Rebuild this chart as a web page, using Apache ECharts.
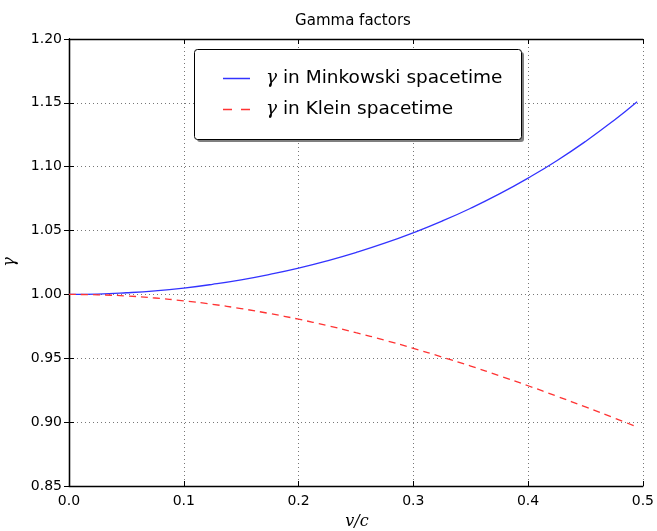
<!DOCTYPE html>
<html>
<head>
<meta charset="utf-8">
<script src="https://cdn.jsdelivr.net/npm/echarts@6/dist/echarts.min.js"></script>
<style>
  html, body { margin: 0; padding: 0; background: #fff; }
  #chart { width: 657px; height: 531px; }
</style>
</head>
<body>
<div id="chart"></div>
<script>
// v/c samples and the two gamma curves
var velocity = [0, 0.025, 0.05, 0.075, 0.1, 0.125, 0.15, 0.175, 0.2, 0.225, 0.25,
    0.275, 0.3, 0.325, 0.35, 0.375, 0.4, 0.425, 0.45, 0.475, 0.495];
var gammaMinkowski = [1.0000, 1.0003, 1.0013, 1.0028, 1.0050, 1.0079, 1.0114, 1.0157, 1.0206, 1.0263, 1.0328,
    1.0401, 1.0483, 1.0574, 1.0675, 1.0787, 1.0911, 1.1047, 1.1198, 1.1364, 1.1509];
var gammaKlein = [1.0000, 0.9997, 0.9988, 0.9972, 0.9950, 0.9923, 0.9889, 0.9850, 0.9806, 0.9756, 0.9701,
    0.9642, 0.9578, 0.9510, 0.9439, 0.9363, 0.9285, 0.9203, 0.9119, 0.9033, 0.8962];
var seriesNames = ['Minkowski', 'Klein'];

function pairs(xs, ys) {
    var out = [];
    for (var i = 0; i < xs.length; i++) {
        out.push([xs[i], ys[i]]);
    }
    return out;
}

var chart = echarts.init(document.getElementById('chart'));

var tickFont = {fontFamily: 'DejaVu Sans', fontSize: 14, color: '#000'};
var gammaRich = {
    g: {fontFamily: 'DejaVu Serif', fontStyle: 'italic', fontSize: 18.5, color: '#000'},
    t: {fontFamily: 'DejaVu Sans', fontSize: 18.5, color: '#000'}
};

var option = {
    animation: false,
    title: {
        text: 'Gamma factors',
        left: 348,
        top: 9,
        textAlign: 'center',
        textStyle: {fontFamily: 'DejaVu Sans', fontSize: 15, fontWeight: 'normal', color: '#000'}
    },
    graphic: [
        {
            type: 'rect',
            shape: {x: 197, y: 52, width: 327, height: 90, r: 3},
            style: {fill: 'rgba(0,0,0,0.5)'},
            z: 99
        },
        {
            type: 'rect',
            shape: {x: 194.5, y: 49.5, width: 327, height: 90, r: 3},
            style: {fill: '#fff', stroke: '#000', lineWidth: 1},
            z: 100
        },
        {
            type: 'text',
            x: 10, y: 262,
            rotation: Math.PI / 2,
            style: {text: 'γ', fontFamily: 'DejaVu Serif', fontStyle: 'italic', fontSize: 16, fill: '#000',
                align: 'center', verticalAlign: 'middle'}
        },
        {
            type: 'text',
            x: 357, y: 522,
            style: {text: 'v/c', fontFamily: 'DejaVu Serif', fontStyle: 'italic', fontSize: 16, fill: '#000',
                align: 'center', verticalAlign: 'middle'}
        }
    ],
    legend: {
        orient: 'vertical',
        left: 218,
        top: 64,
        itemWidth: 27,
        itemHeight: 1.5,
        itemGap: 12,
        z: 110,
        data: [
            {name: seriesNames[0], icon: 'path://M0,0h27v1.5H0z', itemStyle: {color: '#3333ff'}},
            {name: seriesNames[1], icon: 'path://M0,0h9v1.5H0z M18,0h9v1.5H18z', itemStyle: {color: '#ff3333'}}
        ],
        formatter: function (name) {
            return '{g|γ}{t| in ' + name + ' spacetime}';
        },
        textStyle: {padding: [0, 0, 0, 11], rich: gammaRich}
    },
    grid: {left: 69, right: 11, top: 39, bottom: 45},
    xAxis: [
        {
            type: 'value', min: 0, max: 0.5, interval: 0.1,
            axisLine: {lineStyle: {color: '#000', width: 1.3}},
            axisTick: {inside: true, length: 5, lineStyle: {color: '#000'}},
            axisLabel: Object.assign({margin: 8, formatter: function (v) { return v.toFixed(1); }}, tickFont),
            splitLine: {show: true, lineStyle: {color: '#777', type: [1, 3], width: 1}}
        },
        {
            type: 'value', min: 0, max: 0.5, interval: 0.1, position: 'top',
            axisLine: {lineStyle: {color: '#000', width: 1.3}},
            axisTick: {inside: true, length: 5, lineStyle: {color: '#000'}},
            axisLabel: {show: false},
            splitLine: {show: false}
        }
    ],
    yAxis: [
        {
            type: 'value', min: 0.85, max: 1.2, interval: 0.05,
            axisLine: {show: true, lineStyle: {color: '#000', width: 1.3}},
            axisTick: {show: true, inside: true, length: 5, lineStyle: {color: '#000'}},
            axisLabel: Object.assign({margin: 7, formatter: function (v) { return v.toFixed(2); }}, tickFont),
            splitLine: {show: true, lineStyle: {color: '#777', type: [1, 3], width: 1}}
        },
        {
            type: 'value', min: 0.85, max: 1.2, interval: 0.05, position: 'right',
            axisLine: {show: true, lineStyle: {color: '#000', width: 1.3}},
            axisTick: {show: true, inside: true, length: 5, lineStyle: {color: '#000'}},
            axisLabel: {show: false},
            splitLine: {show: false}
        }
    ],
    series: [
        {
            name: seriesNames[0],
            type: 'line',
            smooth: true,
            symbol: 'none',
            data: pairs(velocity, gammaMinkowski),
            lineStyle: {color: '#3333ff', width: 1.3},
            itemStyle: {color: '#3333ff'}
        },
        {
            name: seriesNames[1],
            type: 'line',
            smooth: true,
            symbol: 'none',
            data: pairs(velocity, gammaKlein),
            lineStyle: {color: '#ff3333', width: 1.3, type: [7, 5]},
            itemStyle: {color: '#ff3333'}
        }
    ]
};

chart.setOption(option);
</script>
</body>
</html>
